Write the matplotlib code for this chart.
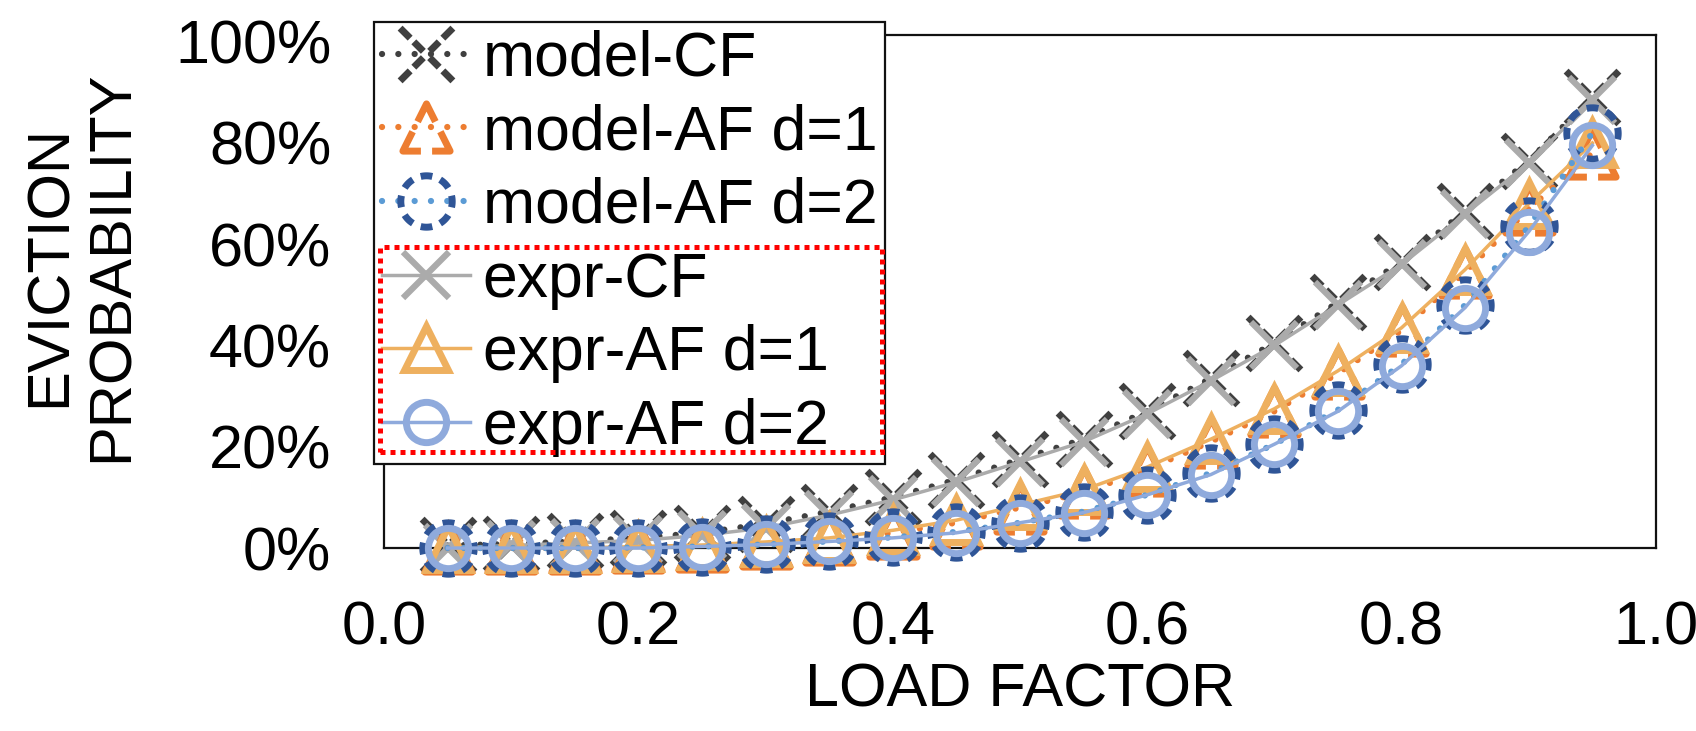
import numpy as np
import matplotlib
matplotlib.use("Agg")
import matplotlib.pyplot as plt
from matplotlib.path import Path
from matplotlib.markers import MarkerStyle
from matplotlib.patches import Rectangle

plt.rcParams['font.family'] = ['Liberation Sans', 'DejaVu Sans']

# ---------------- data ----------------
load_factor = [0.05, 0.10, 0.15, 0.20, 0.25, 0.30, 0.35, 0.40, 0.45, 0.50,
               0.55, 0.60, 0.65, 0.70, 0.75, 0.80, 0.85, 0.90, 0.95]
model_cf = [0.005, 0.008, 0.013, 0.020, 0.030, 0.048, 0.072, 0.100, 0.135, 0.175,
            0.215, 0.270, 0.335, 0.405, 0.485, 0.565, 0.665, 0.765, 0.890]
model_af1 = [0.000, 0.000, 0.000, 0.002, 0.004, 0.009, 0.017, 0.030, 0.050, 0.080,
             0.110, 0.155, 0.210, 0.270, 0.345, 0.430, 0.545, 0.670, 0.780]
model_af2 = [0.000, 0.000, 0.000, 0.001, 0.003, 0.007, 0.013, 0.021, 0.032, 0.050,
             0.072, 0.105, 0.148, 0.205, 0.273, 0.363, 0.480, 0.635, 0.820]
expr_cf = [0.000, 0.005, 0.010, 0.015, 0.025, 0.040, 0.065, 0.095, 0.130, 0.170,
           0.210, 0.265, 0.330, 0.400, 0.480, 0.560, 0.660, 0.760, 0.885]
expr_af1 = [0.000, 0.000, 0.000, 0.003, 0.006, 0.012, 0.020, 0.035, 0.055, 0.085,
            0.115, 0.160, 0.215, 0.275, 0.350, 0.435, 0.550, 0.680, 0.800]
expr_af2 = [0.000, 0.000, 0.000, 0.000, 0.003, 0.007, 0.013, 0.020, 0.030, 0.050,
            0.070, 0.105, 0.145, 0.205, 0.270, 0.360, 0.475, 0.625, 0.795]

labels = ["model-CF", "model-AF d=1", "model-AF d=2",
          "expr-CF", "expr-AF d=1", "expr-AF d=2"]
x_ticks = [0.0, 0.2, 0.4, 0.6, 0.8, 1.0]
y_ticks = [0.0, 0.2, 0.4, 0.6, 0.8, 1.0]

# colours
C_MCF = '#404040'
C_MAF1 = '#ED7D31'
C_MAF2_EDGE = '#2F5597'
C_MAF2_LINE = '#5B9BD5'
C_ECF = '#ABABAB'
C_EAF1 = '#EEB05F'
C_EAF2 = '#8FAADC'


# ------------- dashed marker paths -------------
def dashed_closed(pts, n, duty, phase=0.0):
    pts = np.asarray(pts, float)
    pts = np.vstack([pts, pts[:1]])
    seg = np.diff(pts, axis=0)
    L = np.hypot(seg[:, 0], seg[:, 1])
    cum = np.concatenate([[0], np.cumsum(L)])
    total = cum[-1]

    def at(s):
        s = s % total
        i = int(np.searchsorted(cum, s, side='right') - 1)
        i = min(max(i, 0), len(L) - 1)
        t = (s - cum[i]) / L[i]
        return pts[i] + t * seg[i]

    allc = np.concatenate([cum - total, cum, cum + total])
    verts, codes = [], []
    period = total / n
    for k in range(n):
        s0 = (k + phase) * period - duty * period / 2
        s1 = s0 + duty * period
        ss = [s0] + sorted(c for c in allc if s0 < c < s1) + [s1]
        for j, s in enumerate(ss):
            verts.append(at(s))
            codes.append(Path.MOVETO if j == 0 else Path.LINETO)
    return Path(np.array(verts), codes)


def dashed_x(pieces):
    verts, codes = [], []
    for dx, dy in [(1, 1), (-1, 1), (1, -1), (-1, -1)]:
        for a, b in pieces:
            verts += [(a * dx, a * dy), (b * dx, b * dy)]
            codes += [Path.MOVETO, Path.LINETO]
    return Path(np.array(verts, float), codes)


theta = np.linspace(0, 2 * np.pi, 160, endpoint=False)
circle_pts = np.column_stack([np.cos(theta), np.sin(theta)])
tri_pts = [(0, 1), (-1, -1), (1, -1)]

m_circle = MarkerStyle(dashed_closed(circle_pts, 8, 0.58, 0.0), joinstyle='round', capstyle='butt')
m_tri = MarkerStyle(dashed_closed(tri_pts, 3, 0.78, 0.0), joinstyle='miter', capstyle='butt')
m_x = MarkerStyle(dashed_x([(0.12, 0.48), (0.62, 1.0)]), capstyle='butt')

# ---------------- figure ----------------
fig = plt.figure(figsize=(16.96, 7.31), dpi=100)
ax = fig.add_axes([0.2264, 0.2503, 0.7500, 0.7017])

dot_ls = (0, (0.01, 2.6))
h = []
h += ax.plot(load_factor, model_cf, color=C_MCF, lw=4.5, ls=dot_ls, dash_capstyle='round',
             marker=m_x, ms=38, mec=C_MCF, mfc='none', mew=5, clip_on=False, zorder=3,
             label=labels[0])
h += ax.plot(load_factor, model_af1, color=C_MAF1, lw=4.5, ls=dot_ls, dash_capstyle='round',
             marker=m_tri, ms=34, mec=C_MAF1, mfc='none', mew=5, clip_on=False, zorder=5,
             label=labels[1])
h += ax.plot(load_factor, model_af2, color=C_MAF2_LINE, lw=4.5, ls=dot_ls, dash_capstyle='round',
             marker=m_circle, ms=37, mec=C_MAF2_EDGE, mfc='none', mew=5, clip_on=False, zorder=7,
             label=labels[2])
h += ax.plot(load_factor, expr_cf, color=C_ECF, lw=2.5, ls='-',
             marker='x', ms=33, mec=C_ECF, mew=4.5, clip_on=False, zorder=4,
             label=labels[3])
h += ax.plot(load_factor, expr_af1, color=C_EAF1, lw=2.5, ls='-',
             marker='^', ms=31, mec=C_EAF1, mfc='none', mew=5, clip_on=False, zorder=6,
             label=labels[4])
h += ax.plot(load_factor, expr_af2, color=C_EAF2, lw=2.5, ls='-',
             marker='o', ms=29, mec=C_EAF2, mfc='none', mew=5, clip_on=False, zorder=8,
             label=labels[5])

ax.set_xlim(0.0, 1.0)
ax.set_ylim(0.0, 1.013)
ax.set_xticks(x_ticks)
ax.set_xticklabels([f"{v:.1f}" for v in x_ticks])
ax.set_yticks(y_ticks)
ax.set_yticklabels([f"{int(round(v * 100))}%" for v in y_ticks])
ax.tick_params(axis='both', length=0, labelsize=44, pad=38)
for s in ax.spines.values():
    s.set_linewidth(1.6)
    s.set_color('#111111')

ax.set_xlabel("LOAD FACTOR", fontsize=44)
ax.xaxis.set_label_coords(0.5, -0.278)
ax.xaxis.label.set_va('center')
ax.set_ylabel("EVICTION\nPROBABILITY", fontsize=43, linespacing=1.15, multialignment='center')
ax.yaxis.set_label_coords(-0.238, 0.55)
ax.yaxis.label.set_va('center')
ax.yaxis.label.set_ha('center')

leg = ax.legend(handles=h, loc='upper left', bbox_to_anchor=(374 / 1696, 1 - 22 / 731),
                bbox_transform=fig.transFigure, fontsize=45, frameon=True, fancybox=False,
                edgecolor='#111111', framealpha=1.0, borderaxespad=0, borderpad=0.12,
                labelspacing=0.235, handlelength=1.42, handletextpad=0.2, markerscale=1.0)
leg.get_frame().set_linewidth(1.6)
leg.set_zorder(20)

rect = Rectangle((380 / 1696, 1 - 452 / 731), 502 / 1696, 205 / 731,
                 transform=fig.transFigure, fill=False, edgecolor='#FF0000',
                 lw=3.6, ls=(0, (1, 1)), zorder=30)
fig.add_artist(rect)

fig.savefig("out.png", dpi=100)
